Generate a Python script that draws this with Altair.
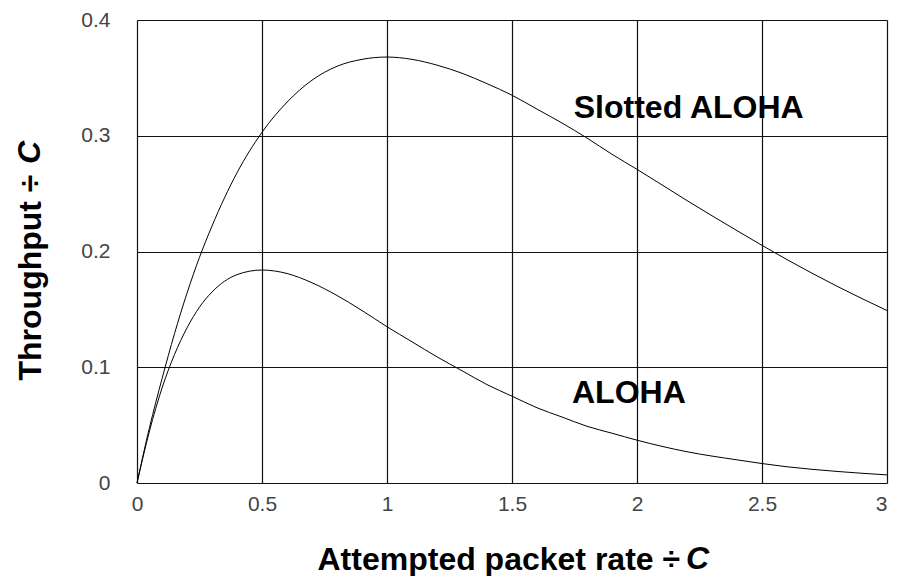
import altair as alt
import pandas as pd

# attempted packet rate (G) samples
rate = [0, 0.05, 0.1, 0.15, 0.2, 0.25, 0.3, 0.4, 0.5, 0.6, 0.7, 0.8, 0.9, 1.0,
        1.1, 1.2, 1.3, 1.4, 1.5, 1.6, 1.7, 1.8, 1.9, 2.0, 2.2, 2.4, 2.6, 2.8, 3.0]
slotted = [0, 0.048, 0.090, 0.129, 0.164, 0.195, 0.222, 0.268, 0.303, 0.329, 0.348,
           0.360, 0.366, 0.368, 0.366, 0.361, 0.354, 0.345, 0.335, 0.323, 0.311,
           0.298, 0.284, 0.271, 0.244, 0.218, 0.193, 0.170, 0.149]
aloha = [0, 0.045, 0.082, 0.111, 0.134, 0.152, 0.165, 0.180, 0.184, 0.181, 0.173,
         0.162, 0.149, 0.135, 0.122, 0.109, 0.097, 0.085, 0.075, 0.065, 0.057,
         0.049, 0.043, 0.037, 0.027, 0.020, 0.014, 0.010, 0.007]

x_ticks = [0, 0.5, 1, 1.5, 2, 2.5, 3]
y_ticks = [0, 0.1, 0.2, 0.3, 0.4]

labels = ["Slotted ALOHA", "ALOHA"]
label_x = [1.747, 1.740]
label_y = [0.3153, 0.0691]

df = pd.DataFrame({
    "rate": rate * 2,
    "throughput": slotted + aloha,
    "series": ["Slotted ALOHA"] * len(rate) + ["ALOHA"] * len(rate),
})
lab = pd.DataFrame({"label": labels, "x": label_x, "y": label_y})

W, H = 750, 463

xscale = alt.Scale(domain=[0, 3], nice=False, zero=True)
yscale = alt.Scale(domain=[0, 0.4], nice=False, zero=True)

x_axis = alt.Axis(
    values=x_ticks, grid=True, gridColor="#111", gridWidth=1.2, ticks=False,
    domain=False, labelFont="Liberation Sans", labelFontSize=21, labelColor="#444",
    labelPadding=10, labelBaseline="top", labelFlush=False, format="~g",
    labelAlign=alt.expr("datum.value >= 3 ? 'right' : 'center'"),
    title="Attempted packet rate ÷ ", titleFont="Liberation Sans", titleFontSize=32,
    titleFontWeight="bold", titleColor="black", titleAlign="left", titleAnchor="start",
    titleX=180, titleY=86, titleBaseline="alphabetic",
)
y_axis = alt.Axis(
    values=y_ticks, grid=True, gridColor="#111", gridWidth=1.2, ticks=False,
    domain=False, labelFont="Liberation Sans", labelFontSize=21, labelColor="#444",
    labelPadding=27, labelFlush=False, format="~g",
    title="Throughput ÷ ", titleFont="Liberation Sans", titleFontSize=32,
    titleFontWeight="bold", titleColor="black", titleAngle=270, titleAlign="left",
    titleAnchor="start", titleX=-97, titleY=360, titleBaseline="alphabetic",
)

lines = alt.Chart(df).mark_line(color="black", strokeWidth=1, interpolate="monotone").encode(
    x=alt.X("rate:Q", scale=xscale, axis=x_axis),
    y=alt.Y("throughput:Q", scale=yscale, axis=y_axis),
    detail="series:N",
)

texts = alt.Chart(lab).mark_text(
    align="left", baseline="alphabetic", font="Liberation Sans", fontSize=32,
    fontWeight="bold", color="black",
).encode(
    x=alt.X("x:Q", scale=xscale),
    y=alt.Y("y:Q", scale=yscale),
    text="label:N",
)

c_df = pd.DataFrame({"t": ["C"]})
c_x = alt.Chart(c_df).mark_text(
    align="left", baseline="alphabetic", font="Liberation Sans", fontSize=32,
    fontWeight="bold", fontStyle="italic", color="black",
).encode(x=alt.value(549), y=alt.value(H + 86), text="t:N")
c_y = alt.Chart(c_df).mark_text(
    align="left", baseline="alphabetic", font="Liberation Sans", fontSize=32,
    fontWeight="bold", fontStyle="italic", color="black", angle=270,
).encode(x=alt.value(-97), y=alt.value(144), text="t:N")

chart = alt.layer(lines, texts, c_x, c_y).properties(
    width=W, height=H,
    autosize=alt.AutoSizeParams(type="none"),
    padding={"left": 129, "top": 12, "right": 4, "bottom": 93},
).configure_view(stroke="black", strokeWidth=1.2).configure(background="white")

chart.save("out.html", embed_options={"renderer": "svg", "actions": False})
